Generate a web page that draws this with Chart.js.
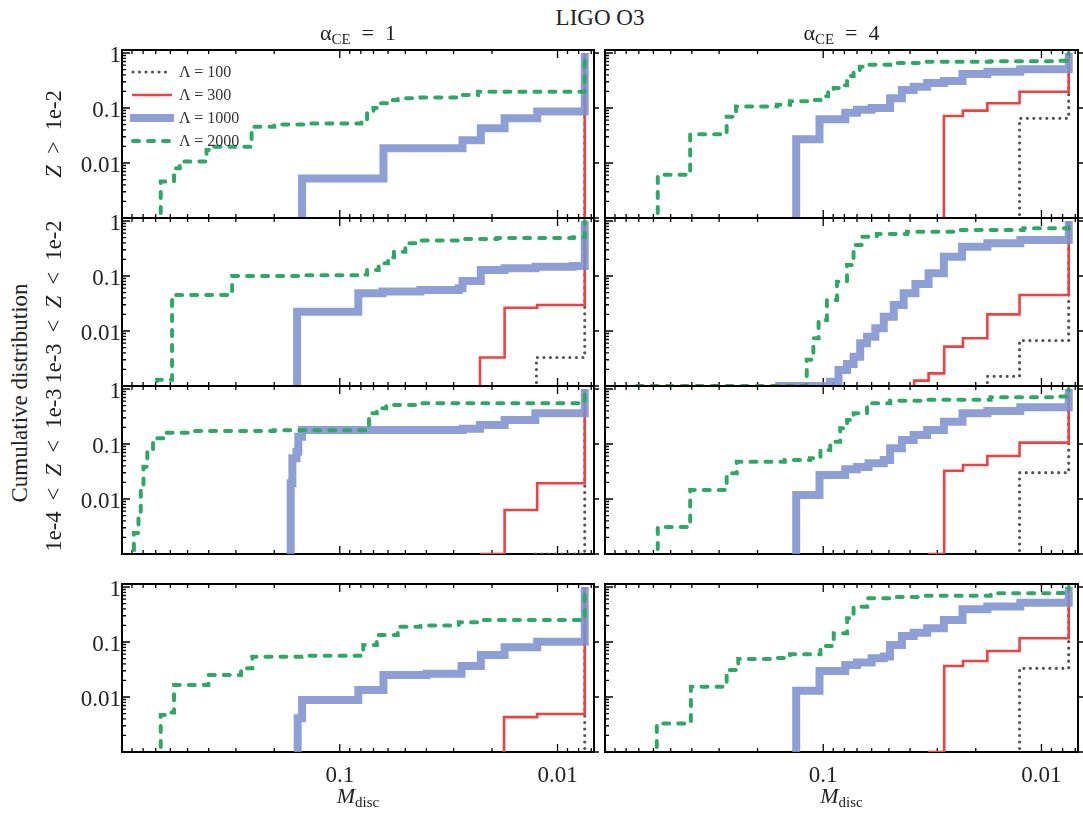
<!DOCTYPE html>
<html>
<head>
<meta charset="utf-8">
<title>LIGO O3 cumulative distribution</title>
<script src="https://cdn.jsdelivr.net/npm/chart.js@4.4.1/dist/chart.umd.min.js"></script>
<style>
  html, body { margin: 0; background: #fff; }
  #fig { position: relative; width: 1083px; height: 814px; overflow: hidden;
         font-family: "Liberation Serif", "DejaVu Serif", serif; color: #222; }
  #fig canvas { position: absolute; }
  .txt { position: absolute; white-space: nowrap; line-height: 1; }
  .hc { transform: translateX(-50%); }
  .rot { transform: translate(-50%, -50%) rotate(-90deg); }
  sub { font-size: 68%; vertical-align: baseline; position: relative; top: 0.3em; }
  #legend { position: absolute; left: 130px; top: 60px; font-size: 16px; color: #333; line-height: 1; }
  #legend div { height: 23px; display: flex; align-items: center; white-space: nowrap; }
  #legend svg { margin-right: 5px; }
</style>
</head>
<body>
<div id="fig"></div>
<script>
// axis ranges: x is M_disc on a reversed log axis, y is log
const X_MIN = 0.0068, X_MAX = 1;
const Y_MIN = 0.001, Y_MAX = 1.134;
const Y_FLOOR = 1e-4; // curves start below the visible range

const xTickVals = [0.1, 0.01];
const xTickLabels = ['0.1', '0.01'];
const yTickVals = [0.01, 0.1, 1];
const yTickLabels = ['0.01', '0.1', '1'];

const figTitle = 'LIGO O3';
const colLabels = ['1', '4'];   // alpha_CE
const rowLabels = ['Z > 1e-2', '1e-3 < Z < 1e-2', '1e-4 < Z < 1e-3', ''];
const seriesNames = ['Λ = 100', 'Λ = 300', 'Λ = 1000', 'Λ = 2000'];
const yTitle = 'Cumulative distribution';

// each series: [M_disc where a step happens, cumulative value after it]
// row 1: Z > 1e-2
const z1_a1_L100 = [[0.0075, 1]];
const z1_a1_L300 = [[0.0075, 1]];
const z1_a1_L1000 = [[0.149, 0.0052], [0.063, 0.0185], [0.0273, 0.026], [0.0225, 0.043], [0.0175, 0.065], [0.0124, 0.086], [0.0075, 1]];
const z1_a1_L2000 = [[0.664, 0.0046], [0.577, 0.008], [0.543, 0.0106], [0.409, 0.0172], [0.385, 0.0198], [0.254, 0.0457], [0.2, 0.05], [0.14, 0.052], [0.0796, 0.055], [0.0749, 0.08], [0.07, 0.1], [0.0663, 0.122], [0.06, 0.14], [0.0542, 0.15], [0.0426, 0.155], [0.0284, 0.172], [0.0232, 0.198], [0.0075, 1]];
const z1_a4_L100 = [[0.0126, 0.065], [0.0075, 1]];
const z1_a4_L300 = [[0.028, 0.0716], [0.0229, 0.0895], [0.0177, 0.122], [0.0126, 0.198], [0.0075, 1]];
const z1_a4_L1000 = [[0.133, 0.027], [0.104, 0.0622], [0.0793, 0.082], [0.0701, 0.093], [0.06, 0.1], [0.0494, 0.15], [0.0436, 0.212], [0.0385, 0.244], [0.0334, 0.285], [0.028, 0.31], [0.023, 0.415], [0.0177, 0.455], [0.0125, 0.505], [0.0075, 1]];
const z1_a4_L2000 = [[0.573, 0.0061], [0.407, 0.0332], [0.277, 0.0695], [0.251, 0.107], [0.163, 0.115], [0.142, 0.132], [0.115, 0.14], [0.103, 0.163], [0.095, 0.2], [0.0895, 0.231], [0.083, 0.26], [0.0777, 0.305], [0.075, 0.38], [0.0726, 0.464], [0.068, 0.56], [0.063, 0.614], [0.0493, 0.658], [0.0347, 0.69], [0.0171, 0.71], [0.0085, 0.726], [0.0075, 1]];
// row 2: 1e-3 < Z < 1e-2
const z2_a1_L100 = [[0.0125, 0.0033], [0.0075, 1]];
const z2_a1_L300 = [[0.0227, 0.0033], [0.0175, 0.0265], [0.0124, 0.0297], [0.0075, 1]];
const z2_a1_L1000 = [[0.157, 0.0224], [0.0822, 0.0484], [0.0637, 0.052], [0.0426, 0.0556], [0.0284, 0.0597], [0.0273, 0.081], [0.0225, 0.129], [0.0175, 0.138], [0.0126, 0.147], [0.0085, 0.152], [0.0075, 1]];
const z2_a1_L2000 = [[0.69, 0.0013], [0.589, 0.045], [0.312, 0.1], [0.15, 0.103], [0.0812, 0.107], [0.0749, 0.129], [0.0663, 0.17], [0.06, 0.22], [0.0564, 0.277], [0.05, 0.393], [0.0426, 0.44], [0.0284, 0.47], [0.019, 0.49], [0.00845, 0.505], [0.0075, 1]];
const z2_a4_L100 = [[0.0177, 0.0015], [0.0126, 0.0067], [0.0075, 1]];
const z2_a4_L300 = [[0.0383, 0.00125], [0.0329, 0.0017], [0.0279, 0.0052], [0.0229, 0.0074], [0.0177, 0.0201], [0.0126, 0.0452], [0.0075, 1]];
const z2_a4_L1000 = [[0.166, 0.001], [0.093, 0.0012], [0.0851, 0.00195], [0.0778, 0.0025], [0.0726, 0.0034], [0.0677, 0.006], [0.063, 0.0079], [0.0577, 0.0112], [0.0528, 0.0182], [0.0475, 0.0297], [0.0428, 0.0484], [0.0378, 0.0716], [0.0329, 0.112], [0.028, 0.225], [0.0231, 0.341], [0.0177, 0.393], [0.0125, 0.452], [0.0075, 1]];
const z2_a4_L2000 = [[0.716, 0.001], [0.128, 0.001], [0.119, 0.003], [0.111, 0.0074], [0.105, 0.0159], [0.0962, 0.0366], [0.0865, 0.0788], [0.0778, 0.158], [0.0726, 0.366], [0.0665, 0.519], [0.0568, 0.58], [0.0413, 0.64], [0.0244, 0.686], [0.0121, 0.736], [0.0075, 1]];
// row 3: 1e-4 < Z < 1e-3
const z3_a1_L100 = [[0.0126, 0.001], [0.0075, 1]];
const z3_a1_L300 = [[0.0227, 0.001], [0.0175, 0.0063], [0.0124, 0.0193], [0.0075, 1]];
const z3_a1_L1000 = [[0.168, 0.0193], [0.165, 0.0549], [0.158, 0.0726], [0.155, 0.136], [0.149, 0.18], [0.0273, 0.19], [0.0227, 0.221], [0.0175, 0.273], [0.01265, 0.361], [0.0075, 1]];
const z3_a1_L2000 = [[0.89, 0.0012], [0.882, 0.0024], [0.84, 0.0055], [0.82, 0.0146], [0.797, 0.0387], [0.765, 0.0726], [0.72, 0.127], [0.638, 0.161], [0.481, 0.172], [0.2, 0.178], [0.0749, 0.18], [0.0734, 0.361], [0.0676, 0.446], [0.0612, 0.512], [0.0426, 0.55], [0.0075, 1]];
const z3_a4_L100 = [[0.0126, 0.0301], [0.0075, 1]];
const z3_a4_L300 = [[0.0332, 0.001], [0.0279, 0.0327], [0.0229, 0.0415], [0.0177, 0.0605], [0.0126, 0.106], [0.0075, 1]];
const z3_a4_L1000 = [[0.133, 0.0118], [0.104, 0.0273], [0.0793, 0.0347], [0.0701, 0.038], [0.062, 0.0445], [0.0528, 0.0512], [0.0494, 0.0834], [0.0436, 0.118], [0.0385, 0.146], [0.0334, 0.18], [0.028, 0.255], [0.023, 0.361], [0.0177, 0.4], [0.0125, 0.464], [0.0075, 1]];
const z3_a4_L2000 = [[0.573, 0.0031], [0.407, 0.0146], [0.277, 0.0293], [0.249, 0.0477], [0.15, 0.051], [0.115, 0.055], [0.103, 0.078], [0.0929, 0.11], [0.0836, 0.193], [0.0777, 0.273], [0.0726, 0.361], [0.063, 0.548], [0.0493, 0.614], [0.0347, 0.64], [0.0171, 0.708], [0.0085, 0.73], [0.0075, 1]];
// row 4
const z4_a1_L100 = [[0.0075, 1]];
const z4_a1_L300 = [[0.0176, 0.0043], [0.0124, 0.0049], [0.0075, 1]];
const z4_a1_L1000 = [[0.156, 0.0041], [0.149, 0.0088], [0.0822, 0.0134], [0.063, 0.0251], [0.04, 0.0265], [0.0276, 0.0366], [0.0225, 0.058], [0.0175, 0.08], [0.0124, 0.1014], [0.0075, 1]];
const z4_a1_L2000 = [[0.664, 0.0047], [0.6, 0.0052], [0.577, 0.0165], [0.401, 0.0251], [0.284, 0.0332], [0.252, 0.054], [0.15, 0.056], [0.078, 0.088], [0.0676, 0.134], [0.0542, 0.19], [0.0426, 0.2], [0.0284, 0.228], [0.0232, 0.25], [0.0075, 1]];
const z4_a4_L100 = [[0.0126, 0.0332], [0.0075, 1]];
const z4_a4_L300 = [[0.0332, 0.001], [0.0279, 0.0366], [0.0229, 0.0452], [0.0177, 0.0686], [0.0126, 0.117], [0.0075, 1]];
const z4_a4_L1000 = [[0.133, 0.013], [0.104, 0.0297], [0.0793, 0.0382], [0.0701, 0.0425], [0.06, 0.0505], [0.0528, 0.0545], [0.0494, 0.088], [0.0436, 0.128], [0.0385, 0.148], [0.0334, 0.177], [0.028, 0.251], [0.023, 0.393], [0.0177, 0.44], [0.0125, 0.519], [0.0075, 1]];
const z4_a4_L2000 = [[0.579, 0.0033], [0.404, 0.0154], [0.277, 0.031], [0.245, 0.049], [0.163, 0.051], [0.142, 0.0597], [0.103, 0.0845], [0.0895, 0.144], [0.0777, 0.269], [0.0726, 0.439], [0.063, 0.622], [0.0493, 0.66], [0.0347, 0.69], [0.0171, 0.767], [0.0085, 0.78], [0.0075, 1]];

const panelSeries = [
  [[z1_a1_L100, z1_a1_L300, z1_a1_L1000, z1_a1_L2000], [z1_a4_L100, z1_a4_L300, z1_a4_L1000, z1_a4_L2000]],
  [[z2_a1_L100, z2_a1_L300, z2_a1_L1000, z2_a1_L2000], [z2_a4_L100, z2_a4_L300, z2_a4_L1000, z2_a4_L2000]],
  [[z3_a1_L100, z3_a1_L300, z3_a1_L1000, z3_a1_L2000], [z3_a4_L100, z3_a4_L300, z3_a4_L1000, z3_a4_L2000]],
  [[z4_a1_L100, z4_a1_L300, z4_a1_L1000, z4_a1_L2000], [z4_a4_L100, z4_a4_L300, z4_a4_L1000, z4_a4_L2000]]
];

// line styles, later entries drawn on top
const styles = [
  { color: '#555555', width: 3.2, dash: [0, 6.5], cap: 'round', order: 3 },
  { color: '#ee4242', width: 2.6, dash: [], cap: 'butt', order: 2 },
  { color: 'rgba(124,145,206,0.87)', width: 8, dash: [], cap: 'butt', order: 1 },
  { color: '#2fa866', width: 4, dash: [6, 9], cap: 'round', order: 0 }
];

// panel geometry (plot area)
const COLS = [{ left: 122, width: 472 }, { left: 605, width: 473 }];
const ROWS = [50, 218, 386, 584];
const AREA_H = 168;
const Y_AXIS_W = 58, X_AXIS_H = 42;
const tickFont = { family: "'Liberation Serif', serif", size: 23 };

function logTicks(min, max) {
  const out = [];
  for (let e = Math.floor(Math.log10(min)); e <= Math.ceil(Math.log10(max)); e++) {
    for (let m = 1; m <= 9; m++) {
      const v = m * Math.pow(10, e);
      if (v >= min * 0.999 && v <= max * 1.001) out.push({ v, major: m === 1 });
    }
  }
  return out;
}
const xMarks = logTicks(X_MIN, X_MAX);
const yMarks = logTicks(Y_MIN, Y_MAX);

// frame with inward ticks, drawn under the curves
const framePlugin = {
  id: 'frame',
  beforeDatasetsDraw(chart) {
    const { ctx, chartArea: a, scales: { x, y } } = chart;
    ctx.save();
    ctx.strokeStyle = '#000';
    ctx.lineWidth = 1.3;
    ctx.beginPath();
    xMarks.forEach(t => {
      const px = x.getPixelForValue(t.v), len = t.major ? 8 : 4;
      ctx.moveTo(px, a.top); ctx.lineTo(px, a.top + len);
      ctx.moveTo(px, a.bottom); ctx.lineTo(px, a.bottom - len);
    });
    yMarks.forEach(t => {
      const py = y.getPixelForValue(t.v);
      ctx.moveTo(a.left, py); ctx.lineTo(a.left + (t.major ? 8 : 4), py);
      if (t.major) { ctx.moveTo(a.right, py); ctx.lineTo(a.right + 5, py); }
    });
    ctx.stroke();
    ctx.lineWidth = 2;
    ctx.strokeRect(a.left, a.top, a.right - a.left, a.bottom - a.top);
    ctx.restore();
  }
};

function toPoints(steps) {
  const pts = steps.map(([x, y]) => ({ x, y }));
  if (steps[0][1] > Y_MIN) pts.unshift({ x: steps[0][0], y: Y_FLOOR });
  return pts;
}

const fig = document.getElementById('fig');

function addText(html, cls, style) {
  const d = document.createElement('div');
  d.className = 'txt ' + cls;
  d.innerHTML = html;
  Object.assign(d.style, style);
  fig.appendChild(d);
  return d;
}

ROWS.forEach((top, r) => {
  COLS.forEach((col, c) => {
    const showY = c === 0, showX = r === ROWS.length - 1;
    const padL = showY ? Y_AXIS_W : 4, padR = c === 0 ? 6 : 5, padT = 4, padB = showX ? X_AXIS_H + 4 : 4;
    const cv = document.createElement('canvas');
    cv.width = col.width + padL + padR;
    cv.height = AREA_H + padT + padB;
    cv.style.left = (col.left - padL) + 'px';
    cv.style.top = (top - padT) + 'px';
    cv.style.width = cv.width + 'px';
    cv.style.height = cv.height + 'px';
    fig.appendChild(cv);

    new Chart(cv, {
      type: 'line',
      data: {
        datasets: panelSeries[r][c].map((s, k) => ({
          label: seriesNames[k],
          data: toPoints(s),
          borderColor: styles[k].color,
          borderWidth: styles[k].width,
          borderDash: styles[k].dash,
          borderCapStyle: styles[k].cap,
          borderJoinStyle: 'miter',
          stepped: 'before',
          pointRadius: 0,
          fill: false,
          order: styles[k].order
        }))
      },
      options: {
        responsive: false,
        animation: false,
        events: [],
        layout: { padding: { left: showY ? 0 : padL, right: padR, top: padT, bottom: 4 } },
        plugins: { legend: { display: false }, tooltip: { enabled: false } },
        scales: {
          x: {
            type: 'logarithmic', reverse: true, min: X_MIN, max: X_MAX,
            display: showX,
            grid: { display: false, drawTicks: false },
            border: { display: false },
            afterBuildTicks: s => { s.ticks = xTickVals.map(v => ({ value: v })); },
            afterFit: s => { s.height = showX ? X_AXIS_H : 0; s.paddingLeft = 0; s.paddingRight = 0; },
            ticks: { callback: (v, i) => xTickLabels[i], font: tickFont, color: '#222', padding: 10, maxRotation: 0, autoSkip: false }
          },
          y: {
            type: 'logarithmic', min: Y_MIN, max: Y_MAX,
            display: showY,
            grid: { display: false, drawTicks: false },
            border: { display: false },
            afterBuildTicks: s => { s.ticks = yTickVals.map(v => ({ value: v })); },
            afterFit: s => { s.width = showY ? Y_AXIS_W : 0; s.paddingTop = 0; s.paddingBottom = 0; },
            ticks: { callback: (v, i) => yTickLabels[i], font: tickFont, color: '#222', padding: 1, labelOffset: 3, autoSkip: false }
          }
        }
      },
      plugins: [framePlugin]
    });
  });
});

// texts
addText(figTitle, 'hc', { left: '600px', top: '6px', fontSize: '23px' });
colLabels.forEach((v, c) => {
  const cx = COLS[c].left + COLS[c].width / 2;
  addText('α<sub>CE</sub>&ensp;=&ensp;' + v, 'hc', { left: cx + 'px', top: '21.6px', fontSize: '22px' });
  addText('<i>M</i><sub>disc</sub>', 'hc', { left: cx + 'px', top: '784.6px', fontSize: '22px' });
});
rowLabels.forEach((lbl, r) => {
  if (!lbl) return;
  const d = document.createElement('div');
  d.className = 'txt rot';
  lbl.split(' ').forEach((part, i) => {
    if (i) d.appendChild(document.createTextNode('\u2002'));
    if (part === 'Z') { const it = document.createElement('i'); it.textContent = 'Z'; d.appendChild(it); }
    else d.appendChild(document.createTextNode(part));
  });
  Object.assign(d.style, { left: '54px', top: (ROWS[r] + AREA_H / 2) + 'px', fontSize: '22.5px' });
  fig.appendChild(d);
});
const yt = addText('', 'rot', { left: '19px', top: '393px', fontSize: '23px' });
yt.textContent = yTitle;

// legend inside the first panel
const legend = document.createElement('div');
legend.id = 'legend';
seriesNames.forEach((name, k) => {
  const st = styles[k];
  const row = document.createElement('div');
  const dash = st.dash.length ? ` stroke-dasharray="${st.dash.join(' ')}"` : '';
  row.innerHTML = `<svg width="44" height="12"><line x1="${st.cap === 'round' ? 3 : 2}" y1="6" x2="42" y2="6" stroke="${st.color}" stroke-width="${st.width}" stroke-linecap="${k === 2 ? 'round' : st.cap}"${dash}/></svg>`;
  row.appendChild(document.createTextNode(name));
  legend.appendChild(row);
});
fig.appendChild(legend);
</script>
</body>
</html>
